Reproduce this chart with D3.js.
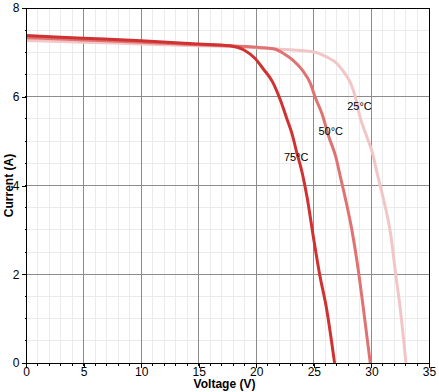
<!DOCTYPE html>
<html>
<head>
<meta charset="utf-8">
<script src="https://cdn.jsdelivr.net/npm/d3@7"></script>
<style>
  html, body { margin: 0; padding: 0; background: #fff; }
  svg { display: block; font-family: Arial, "Liberation Sans", sans-serif; }
</style>
</head>
<body>
<svg id="chart" width="439" height="392"></svg>
<script>
// I-V curves at three cell temperatures
const v25 = [0, 5, 10, 15, 17.7, 22.1, 25.0, 26.1, 27.0, 27.7, 28.2, 28.6, 29.0, 29.6, 30.1, 30.5, 30.9, 31.7, 32.1, 32.5, 33.0];
const i25 = [7.27, 7.23, 7.19, 7.15, 7.13, 7.07, 7.01, 6.9, 6.75, 6.52, 6.30, 6.0, 5.55, 5.1, 4.72, 4.27, 3.85, 2.85, 2.02, 1.23, 0];

const v50 = [0, 5, 10, 15, 17.7, 20.3, 21.5, 22.4, 23.2, 24.0, 24.7, 25.1, 25.7, 26.3, 26.9, 27.3, 27.7, 28.3, 28.9, 29.3, 29.9];
const i50 = [7.33, 7.28, 7.23, 7.17, 7.15, 7.11, 7.08, 6.97, 6.82, 6.60, 6.30, 6.0, 5.62, 5.10, 4.65, 4.2, 3.75, 3.0, 2.02, 1.23, 0];

const v75 = [0, 5, 10, 15, 17.7, 18.9, 19.9, 20.6, 21.4, 22.1, 22.7, 23.1, 23.5, 24.0, 24.4, 25.0, 25.5, 26.1, 26.8];
const i75 = [7.38, 7.32, 7.26, 7.19, 7.15, 7.06, 6.86, 6.63, 6.34, 5.92, 5.47, 5.17, 4.76, 4.27, 3.75, 2.77, 2.0, 1.23, 0];

const seriesNames = ["25°C", "50°C", "75°C"];
const seriesColors = ["#f2c6c6", "#e07272", "#d03232"];
// label anchor points (data coords) for each curve
const labelV = [27.9, 25.4, 22.4];
const labelI = [5.7, 5.14, 4.55];

const xTicks = [0, 5, 10, 15, 20, 25, 30, 35];
const yTicks = [0, 2, 4, 6, 8];

(function () {
  "use strict";

  const svg = d3.select("#chart");
  const left = 26, right = 429, top = 8, bottom = 363;

  const x = d3.scaleLinear().domain([0, 35]).range([left, right]);
  const y = d3.scaleLinear().domain([0, 8]).range([bottom, top]);

  const grid = svg.append("g").attr("shape-rendering", "crispEdges");

  // minor grid
  grid.append("g").selectAll("line").data(d3.range(1, 35)).join("line")
    .attr("x1", (d) => x(d)).attr("x2", (d) => x(d))
    .attr("y1", top).attr("y2", bottom)
    .attr("stroke", "#ebebeb");
  grid.append("g").selectAll("line").data(d3.range(0.5, 8, 0.5)).join("line")
    .attr("x1", left).attr("x2", right)
    .attr("y1", (d) => y(d)).attr("y2", (d) => y(d))
    .attr("stroke", "#ebebeb");

  // major grid
  grid.append("g").selectAll("line").data(xTicks.slice(1, -1)).join("line")
    .attr("x1", (d) => x(d)).attr("x2", (d) => x(d))
    .attr("y1", top).attr("y2", bottom)
    .attr("stroke", "#8c8c8c");
  grid.append("g").selectAll("line").data(yTicks.slice(1, -1)).join("line")
    .attr("x1", left).attr("x2", right)
    .attr("y1", (d) => y(d)).attr("y2", (d) => y(d))
    .attr("stroke", "#8c8c8c");

  // curves
  const line = d3.line().curve(d3.curveMonotoneX).x((d) => x(d[0])).y((d) => y(d[1]));
  const allV = [v25, v50, v75];
  const allI = [i25, i50, i75];
  seriesNames.forEach((name, k) => {
    const pts = allV[k].map((v, j) => [v, allI[k][j]]);
    svg.append("path")
      .datum(pts)
      .attr("d", line)
      .attr("fill", "none")
      .attr("stroke", seriesColors[k])
      .attr("stroke-width", 3)
      .attr("stroke-linejoin", "round");
  });

  // plot frame
  svg.append("rect")
    .attr("x", left + 0.5).attr("y", top + 0.5)
    .attr("width", right - left).attr("height", bottom - top)
    .attr("fill", "none").attr("stroke", "#000")
    .attr("shape-rendering", "crispEdges");

  // axes
  const xAxis = svg.append("g")
    .attr("transform", `translate(0,${bottom + 0.5})`)
    .call(d3.axisBottom(x).tickValues(xTicks).tickSize(4).tickSizeOuter(0));
  xAxis.selectAll(".tick text").attr("y", 12).attr("dy", 0);
  xAxis.append("g").selectAll("line").data(d3.range(1, 35)).join("line")
    .attr("x1", (d) => x(d)).attr("x2", (d) => x(d))
    .attr("y1", 0).attr("y2", 2).attr("stroke", "#000");

  const yAxis = svg.append("g")
    .attr("transform", `translate(${left + 0.5},0)`)
    .call(d3.axisLeft(y).tickValues(yTicks).tickSize(5).tickSizeOuter(0).tickPadding(2));
  yAxis.append("g").selectAll("line").data(d3.range(0.5, 8, 0.5)).join("line")
    .attr("x1", -2).attr("x2", 0)
    .attr("y1", (d) => y(d)).attr("y2", (d) => y(d)).attr("stroke", "#000");

  [xAxis, yAxis].forEach((a) => {
    a.attr("shape-rendering", "crispEdges");
    a.select(".domain").remove();
    a.selectAll("text").attr("font-size", 12).attr("fill", "#000")
      .attr("font-family", "Arial, 'Liberation Sans', sans-serif");
  });

  // curve labels
  svg.append("g").selectAll("text").data(seriesNames).join("text")
    .attr("x", (d, k) => x(labelV[k]))
    .attr("y", (d, k) => y(labelI[k]))
    .attr("font-size", 11)
    .attr("fill", "#000")
    .text((d) => d);

  // axis titles
  svg.append("text")
    .attr("x", (left + right) / 2 - 3).attr("y", 388)
    .attr("text-anchor", "middle")
    .attr("font-size", 12).attr("font-weight", "bold")
    .text("Voltage (V)");
  svg.append("text")
    .attr("transform", `translate(13,${(top + bottom) / 2}) rotate(-90)`)
    .attr("text-anchor", "middle")
    .attr("font-size", 12).attr("font-weight", "bold")
    .text("Current (A)");
})();
</script>
</body>
</html>
